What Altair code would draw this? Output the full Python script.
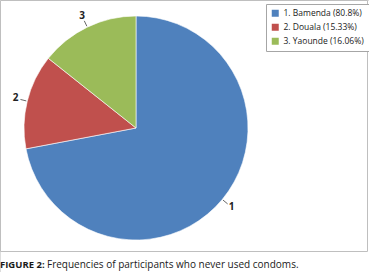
import altair as alt
import pandas as pd

# ---- data ----
slice_labels = ["1", "2", "3"]
cities = ["Bamenda", "Douala", "Yaounde"]
values = [80.8, 15.33, 16.06]
legend_texts = ["1. Bamenda (80.8%)", "2. Douala (15.33%)", "3. Yaounde (16.06%)"]
colors = ["#4F81BD", "#C0504D", "#9BBB59"]
caption_bold = ["FIGURE 2:"]
caption_rest = ["Frequencies of participants who never used condoms."]

df = pd.DataFrame({
    "idx": list(range(len(values))),
    "label": slice_labels,
    "city": cities,
    "value": values,
    "legend": legend_texts,
})

CX, CY, R = 136, 128, 112

base = alt.Chart(df)

frame = alt.Chart(alt.Data(values=[{}])).mark_rect(
    fill="white", stroke="#bfbfbf", strokeWidth=1
).encode(x=alt.value(0.5), x2=alt.value(367.5), y=alt.value(0.5), y2=alt.value(251.5))

pie = base.mark_arc(outerRadius=R, stroke="white", strokeWidth=0.6).encode(
    theta=alt.Theta("value:Q", stack=True),
    order=alt.Order("idx:Q"),
    color=alt.Color(
        "legend:N",
        scale=alt.Scale(domain=legend_texts, range=colors),
        legend=alt.Legend(
            title=None,
            orient="none",
            legendX=266,
            legendY=4,
            direction="vertical",
            symbolType="square",
            symbolSize=49,
            symbolStrokeWidth=0,
            labelFont="Open Sans",
            labelFontSize=8.5,
            labelColor="#222222",
            labelLimit=200,
            rowPadding=5,
            padding=5,
            strokeColor="#a6a6a6",
            fillColor="white",
        ),
    ),
    x=alt.value(CX),
    y=alt.value(CY),
)

geo = base.transform_joinaggregate(
    total="sum(value)"
).transform_window(
    cum="sum(value)", sort=[alt.SortField("idx")], frame=[None, 0]
).transform_calculate(
    mid="(datum.cum - datum.value/2) / datum.total * 2 * PI",
).transform_calculate(
    x1=f"{CX} + {R+1} * sin(datum.mid)",
    y1=f"{CY} - {R+1} * cos(datum.mid)",
    x2=f"{CX} + {R+7} * sin(datum.mid)",
    y2=f"{CY} - {R+7} * cos(datum.mid)",
    tx=f"{CX} + {R+12} * sin(datum.mid)",
    ty=f"{CY} - {R+12} * cos(datum.mid)",
)

leaders = geo.mark_rule(color="#404040", strokeWidth=0.8).encode(
    x=alt.X("x1:Q", scale=None),
    y=alt.Y("y1:Q", scale=None),
    x2="x2:Q",
    y2="y2:Q",
)

labels = geo.mark_text(
    font="Open Sans", fontSize=10, fontWeight="bold", color="#222222",
    align="center", baseline="middle",
).encode(
    x=alt.X("tx:Q", scale=None),
    y=alt.Y("ty:Q", scale=None),
    text="label:N",
)

cap_df1 = pd.DataFrame({"t": caption_bold})
cap_df2 = pd.DataFrame({"t": caption_rest})
cap1 = alt.Chart(cap_df1).mark_text(
    font="Open Sans", fontSize=9.5, fontWeight="bold", color="#1a1a1a",
    align="left", baseline="alphabetic",
).encode(x=alt.value(0), y=alt.value(268), text="t:N")
cap2 = alt.Chart(cap_df2).mark_text(
    font="Open Sans", fontSize=10, color="#1a1a1a",
    align="left", baseline="alphabetic",
).encode(x=alt.value(47), y=alt.value(268), text="t:N")

chart = alt.layer(frame, pie, leaders, labels, cap1, cap2).properties(
    width=369, height=272, padding=0,
    autosize=alt.AutoSizeParams(type="none"),
).configure_view(stroke=None).configure(background="white")

chart.save("out.html", embed_options={"renderer": "svg", "actions": False})
